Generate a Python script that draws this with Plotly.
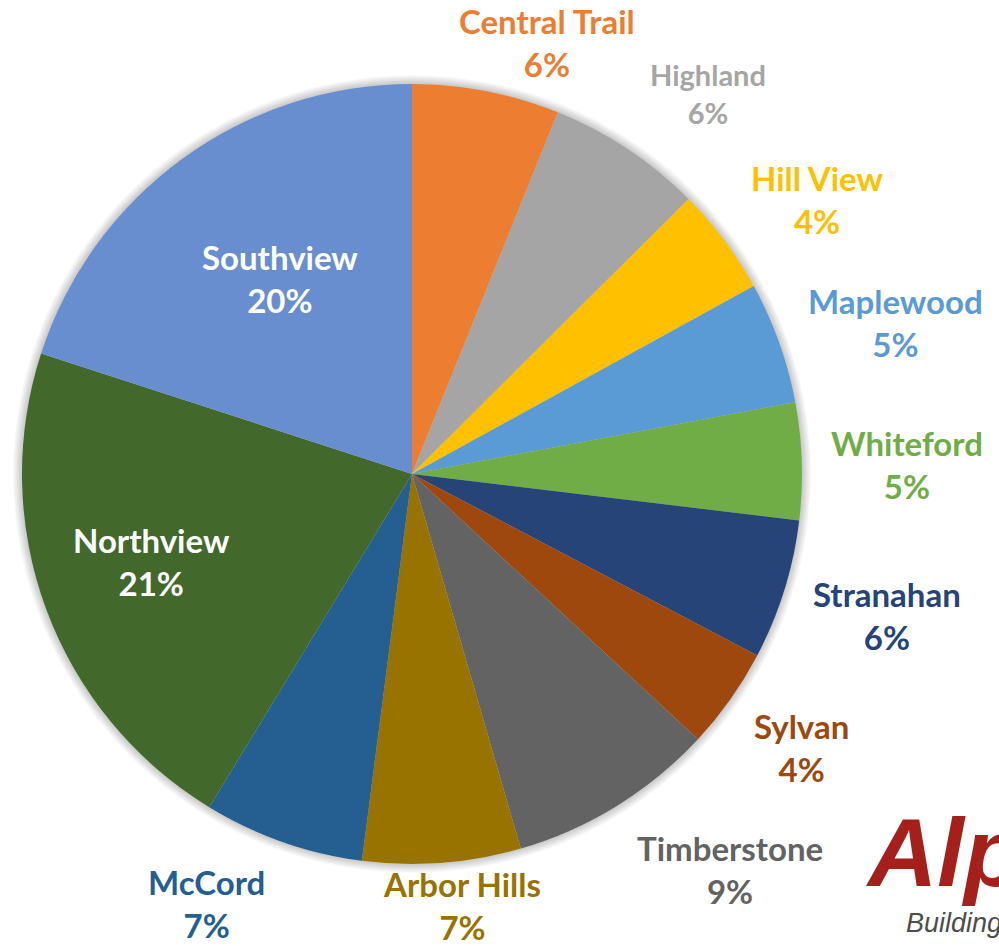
import math
import plotly.graph_objects as go

# Share of enrollment by school (percent), clockwise from 12 o'clock
schools = ["Central Trail", "Highland", "Hill View", "Maplewood", "Whiteford",
           "Stranahan", "Sylvan", "Timberstone", "Arbor Hills", "McCord",
           "Northview", "Southview"]
shares = [6.1, 6.45, 4.45, 5.05, 4.85, 5.8, 4.2, 8.6, 6.55, 6.65, 21.3, 20.0]

slice_colors = ["#ED7D31", "#A5A5A5", "#FFC000", "#5B9BD5", "#70AD47",
                "#264478", "#9E480E", "#636363", "#997300", "#255E91",
                "#43682B", "#698ED0"]
label_colors = ["#ED7D31", "#A5A5A5", "#FFC000", "#5B9BD5", "#70AD47",
                "#264478", "#9E480E", "#636363", "#997300", "#255E91",
                "#FFFFFF", "#FFFFFF"]
# label placement: angular nudge (deg) from slice middle, distance as fraction of radius
label_nudge = [6.4, 4.3, 2.7, 2.3, 0.8, -0.7, -0.2, -7.1, -2.2, 6.2, 1.7, 2.0]
label_dist = [1.16, 1.235, 1.255, 1.30, 1.27, 1.27, 1.22, 1.30, 1.113, 1.22, 0.705, 0.605]
label_size = [33, 29, 33, 33, 33, 33, 33, 33, 33, 33, 33, 33]

W, H = 999, 946
CX, CY, R = 412, 474, 390


def dom(r):
    return dict(x=[(CX - r) / W, (CX + r) / W],
                y=[1 - (CY + r) / H, 1 - (CY - r) / H])


fig = go.Figure()

# soft drop shadow around the pie
for k in range(9, 0, -1):
    fig.add_trace(go.Pie(values=[1], domain=dom(R + k), sort=False,
                         marker=dict(colors=["rgba(0,0,0,0.022)"], line=dict(width=0)),
                         textinfo="none", hoverinfo="skip", showlegend=False))

fig.add_trace(go.Pie(
    labels=schools, values=shares, domain=dom(R), sort=False,
    direction="clockwise", rotation=0,
    marker=dict(colors=slice_colors, line=dict(width=0)),
    textinfo="none", showlegend=False,
))

total = sum(shares)
cum = 0.0
for name, v, col, nud, dist, fs in zip(schools, shares, label_colors,
                                       label_nudge, label_dist, label_size):
    mid = (cum + v / 2) / total * 360 + nud
    cum += v
    a = math.radians(mid)
    px = CX + dist * R * math.sin(a)
    py = CY - dist * R * math.cos(a)
    pct = int(v / total * 100 + 0.5)
    fig.add_annotation(
        x=px / W, y=1 - py / H, xref="paper", yref="paper",
        text=f"<b>{name}</b><br><b>{pct}%</b>", showarrow=False,
        xanchor="center", yanchor="middle", align="center",
        font=dict(family="Lato", size=fs, color=col),
    )

# company logo, bottom-right corner
fig.add_annotation(x=864 / W, y=1 - 852 / H, xref="paper", yref="paper",
                   text="<b><i>Alpine</i></b>", showarrow=False,
                   xanchor="left", yanchor="middle",
                   font=dict(family="Liberation Sans", size=96, color="#A51F1B"))
fig.add_annotation(x=904 / W, y=1 - 923 / H, xref="paper", yref="paper",
                   text="<i>Building</i>", showarrow=False,
                   xanchor="left", yanchor="middle",
                   font=dict(family="Liberation Sans", size=27, color="#4D4D4D"))

fig.update_layout(width=W, height=H, margin=dict(l=0, r=0, t=0, b=0),
                  paper_bgcolor="white", plot_bgcolor="white", showlegend=False)
fig.write_html("out.html")
